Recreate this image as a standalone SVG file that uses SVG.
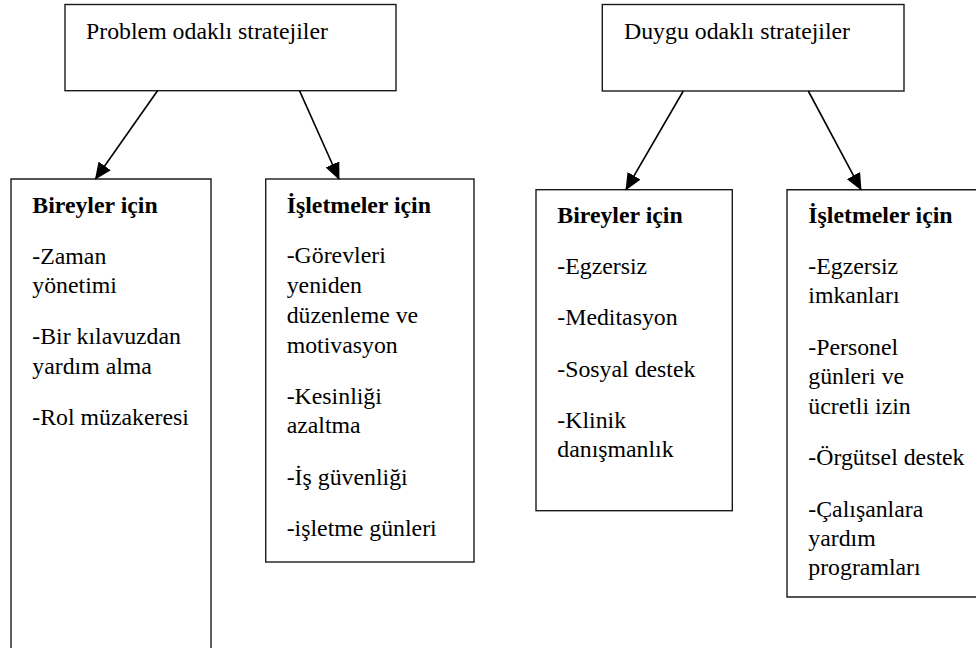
<svg xmlns="http://www.w3.org/2000/svg" width="976" height="648" viewBox="0 0 976 648">
<style>
.box{fill:#fff;stroke:#1a1a1a;stroke-width:1.4}
.t{font-family:"Liberation Serif","Times New Roman",serif;font-size:23.8px;fill:#000}
.b{font-weight:bold}
.c{stroke:#000;stroke-width:1.6;fill:none}
</style>
<defs>
<marker id="ah" markerUnits="userSpaceOnUse" markerWidth="17" markerHeight="15" viewBox="0 0 17 15" refX="16" refY="7.5" orient="auto">
<path d="M0,0 L17,7.5 L0,15 z" fill="#000"/>
</marker>
</defs>
<rect width="976" height="648" fill="#fff"/>
<g id="problem">
<rect class="box" x="65" y="4.5" width="331" height="86.2"/>
<text class="t" x="86" y="39.3">Problem odaklı stratejiler</text>
</g>
<g id="duygu">
<rect class="box" x="602.3" y="4.5" width="301.7" height="86.5"/>
<text class="t" x="624" y="39.3">Duygu odaklı stratejiler</text>
</g>
<g id="p-bireyler">
<path class="box" d="M11,649 V179 H211 V649"/>
<text class="t b" x="32.3" y="212.8">Bireyler için</text>
<text class="t" x="32.3" y="263.5">-Zaman</text>
<text class="t" x="32.3" y="293.3">yönetimi</text>
<text class="t" x="32.3" y="343.8">-Bir kılavuzdan</text>
<text class="t" x="32.3" y="373.6">yardım alma</text>
<text class="t" x="32.3" y="424.8">-Rol müzakeresi</text>
</g>
<g id="p-isletmeler">
<rect class="box" x="265.7" y="179" width="208.3" height="383"/>
<text class="t b" x="286.7" y="212.8">İşletmeler için</text>
<text class="t" x="286.7" y="263.2">-Görevleri</text>
<text class="t" x="286.7" y="293.2">yeniden</text>
<text class="t" x="286.7" y="322.8">düzenleme ve</text>
<text class="t" x="286.7" y="352.6">motivasyon</text>
<text class="t" x="286.7" y="403.5">-Kesinliği</text>
<text class="t" x="286.7" y="433.3">azaltma</text>
<text class="t" x="286.7" y="484.5">-İş güvenliği</text>
<text class="t" x="286.7" y="536">-işletme günleri</text>
</g>
<g id="d-bireyler">
<rect class="box" x="536" y="189.7" width="196.3" height="321"/>
<text class="t b" x="557.3" y="222.7">Bireyler için</text>
<text class="t" x="557.3" y="274.2">-Egzersiz</text>
<text class="t" x="557.3" y="325.4">-Meditasyon</text>
<text class="t" x="557.3" y="376.7">-Sosyal destek</text>
<text class="t" x="557.3" y="428">-Klinik</text>
<text class="t" x="557.3" y="457.2">danışmanlık</text>
</g>
<g id="d-isletmeler">
<path class="box" d="M977,189.7 H787 V597 H977"/>
<text class="t b" x="808.3" y="222.7">İşletmeler için</text>
<text class="t" x="808.3" y="274.2">-Egzersiz</text>
<text class="t" x="808.3" y="303.2">imkanları</text>
<text class="t" x="808.3" y="355">-Personel</text>
<text class="t" x="808.3" y="384">günleri ve</text>
<text class="t" x="808.3" y="413.6">ücretli izin</text>
<text class="t" x="808.3" y="465.2">-Örgütsel destek</text>
<text class="t" x="808.3" y="516.8">-Çalışanlara</text>
<text class="t" x="808.3" y="545.6">yardım</text>
<text class="t" x="808.3" y="575.2">programları</text>
</g>
<g id="connectors">
<line class="c" x1="157.5" y1="90.7" x2="95.5" y2="179" marker-end="url(#ah)"/>
<line class="c" x1="299.5" y1="90.7" x2="339" y2="179" marker-end="url(#ah)"/>
<line class="c" x1="683.3" y1="91" x2="626" y2="189.7" marker-end="url(#ah)"/>
<line class="c" x1="808.3" y1="91" x2="861" y2="189.7" marker-end="url(#ah)"/>
</g>
</svg>
